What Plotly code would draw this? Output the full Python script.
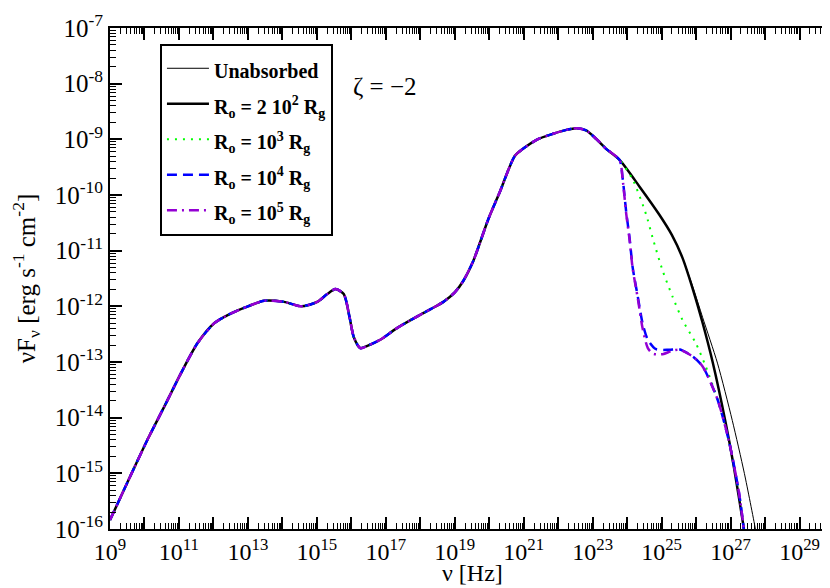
import plotly.graph_objects as go

# ---------------- data ----------------
# shared low-energy part of every spectrum (log10 nu, log10 nuFnu)
shared_lognu = [9.0, 9.5, 10.1, 10.6, 11.06, 11.54, 12.03, 12.5, 13.0, 13.47,
                14.05, 14.55, 15.01, 15.3, 15.54, 15.78, 15.95, 16.07, 16.26,
                16.5, 16.84, 17.3, 17.8, 18.3, 18.67, 19.0, 19.25, 19.54,
                19.97, 20.31, 20.74, 20.98, 21.4, 21.85, 22.24, 22.53, 22.81,
                23.1, 23.39, 23.78]
shared_logF = [-15.84, -15.17, -14.38, -13.77, -13.2, -12.66, -12.3, -12.13,
               -12.0, -11.9, -11.92, -12.0, -11.92, -11.78, -11.69, -11.78,
               -12.2, -12.55, -12.75, -12.7, -12.6, -12.4, -12.22, -12.05,
               -11.92, -11.75, -11.54, -11.18, -10.44, -9.94, -9.3, -9.17,
               -9.0, -8.9, -8.83, -8.80, -8.84, -8.99, -9.17, -9.37]

unabs_lognu = [24.36, 24.93, 25.3, 25.6, 25.9, 26.19, 26.62, 27.05, 27.4, 27.72, 27.8]
unabs_logF = [-9.85, -10.35, -10.72, -11.12, -11.64, -12.2, -13.02, -14.05, -15.0, -16.0, -16.3]

r200_lognu = [24.36, 24.93, 25.3, 25.6, 25.9, 26.19, 26.48, 26.86, 27.1, 27.37, 27.45]
r200_logF = [-9.85, -10.35, -10.72, -11.12, -11.68, -12.3, -13.0, -14.1, -14.9, -15.93, -16.3]

r1e3_lognu = [24.16, 24.55, 24.74, 25.03, 25.32, 25.61, 25.99, 26.28, 26.62,
              26.96, 27.24, 27.37, 27.42]
r1e3_logF = [-9.72, -10.35, -10.77, -11.36, -11.83, -12.25, -12.66, -13.08,
             -13.67, -14.44, -15.33, -15.93, -16.3]

r1e4_lognu = [23.87, 23.97, 24.07, 24.16, 24.31, 24.45, 24.6, 24.84, 25.22,
              25.51, 25.9, 26.19, 26.62, 26.96, 27.24, 27.37, 27.42]
r1e4_logF = [-9.7, -10.29, -10.77, -11.3, -11.83, -12.31, -12.6, -12.77, -12.78,
             -12.77, -12.9, -13.08, -13.67, -14.44, -15.33, -15.93, -16.3]

r1e5_lognu = [23.87, 23.97, 24.07, 24.16, 24.31, 24.45, 24.6, 24.75, 25.03,
              25.3, 25.51, 25.9, 26.19, 26.62, 26.96, 27.24, 27.37, 27.42]
r1e5_logF = [-9.72, -10.32, -10.8, -11.32, -11.86, -12.4, -12.75, -12.85,
             -12.86, -12.8, -12.78, -12.9, -13.08, -13.67, -14.44, -15.33,
             -15.93, -16.3]

x_ticks_exp = list(range(9, 31))
x_label_exp = list(range(9, 30, 2))
y_ticks_exp = list(range(-16, -6))

names = ["Unabsorbed",
         "R<sub>o</sub> = 2 10<sup>2</sup> R<sub>g</sub>",
         "R<sub>o</sub> = 10<sup>3</sup> R<sub>g</sub>",
         "R<sub>o</sub> = 10<sup>4</sup> R<sub>g</sub>",
         "R<sub>o</sub> = 10<sup>5</sup> R<sub>g</sub>"]

# ---------------- build ----------------
def full(ln, lf):
    xs = shared_lognu + ln
    ys = shared_logF + lf
    return [10 ** v for v in xs], [10 ** v for v in ys]

series = [
    (unabs_lognu, unabs_logF, dict(color="black", width=1, dash="solid")),
    (r200_lognu, r200_logF, dict(color="black", width=2.5, dash="solid")),
    (r1e3_lognu, r1e3_logF, dict(color="#00ff00", width=2, dash="2px,6px")),
    (r1e4_lognu, r1e4_logF, dict(color="#0000ff", width=2.5, dash="10px,6px")),
    (r1e5_lognu, r1e5_logF, dict(color="#9400d3", width=2.5, dash="10px,5px,2px,5px")),
]

fig = go.Figure()
for (ln, lf, ls), nm in zip(series, names):
    xs, ys = full(ln, lf)
    fig.add_trace(go.Scatter(
        x=xs, y=ys, mode="lines",
        name='<span style="font-size:20px"><b>%s</b></span>' % nm,
        line=dict(shape="spline", smoothing=0.7, **ls)))

serif = "Liberation Serif"

def sup_label(e):
    return "10<sup>%d</sup>" % e

xtickvals = [10.0 ** e for e in x_ticks_exp]
xticktext = [sup_label(e) if e in x_label_exp else "" for e in x_ticks_exp]
ytickvals = [10.0 ** e for e in y_ticks_exp]
yticktext = [sup_label(e) for e in y_ticks_exp]

xminor = [m * 10.0 ** e for e in range(9, 30) for m in range(2, 10)]
yminor = [m * 10.0 ** e for e in range(-16, -7) for m in range(2, 10)]

fig.update_xaxes(type="log", range=[9, 30.0001], tickmode="array",
                 tickvals=xtickvals, ticktext=xticktext,
                 ticks="inside", ticklen=12, tickwidth=2, tickcolor="black",
                 minor=dict(tickmode="array", tickvals=xminor, ticks="inside",
                            ticklen=6, tickwidth=1, tickcolor="black", showgrid=False),
                 showline=True, linewidth=2, linecolor="black", mirror="allticks",
                 showgrid=False, zeroline=False, ticklabeloverflow="allow",
                 tickfont=dict(family=serif, size=24, color="black"))
fig.update_yaxes(type="log", range=[-16.0001, -6.9999], tickmode="array",
                 tickvals=ytickvals, ticktext=yticktext,
                 ticks="inside", ticklen=12, tickwidth=2, tickcolor="black",
                 minor=dict(tickmode="array", tickvals=yminor, ticks="inside",
                            ticklen=6, tickwidth=1, tickcolor="black", showgrid=False),
                 showline=True, linewidth=2, linecolor="black", mirror="allticks",
                 showgrid=False, zeroline=False, ticklabeloverflow="allow",
                 tickfont=dict(family=serif, size=25, color="black"),
                 title=dict(text="νF<sub>ν</sub> [erg s<sup>-1</sup> cm<sup>-2</sup>]",
                            font=dict(family=serif, size=25, color="black"),
                            standoff=13))

# x-axis title placed as an annotation so it sits where the reference has it
fig.add_annotation(x=0.5, y=-0.088, xref="paper", yref="paper",
                   text="ν [Hz]", showarrow=False, yanchor="middle",
                   font=dict(family=serif, size=24, color="black"))

fig.add_annotation(x=0.38, y=0.915, xref="paper", yref="paper",
                   text="ζ = −2", showarrow=False,
                   font=dict(family=serif, size=25, color="black"))

fig.update_layout(
    width=830, height=588,
    margin=dict(l=102, r=2, t=15, b=67),
    paper_bgcolor="white", plot_bgcolor="white",
    showlegend=True,
    legend=dict(x=0.069, y=0.969, xanchor="left", yanchor="top",
                bgcolor="white", bordercolor="black", borderwidth=2,
                font=dict(family=serif, size=25, color="black"),
                itemwidth=42, tracegroupgap=0),
)

fig.write_html("out.html")
